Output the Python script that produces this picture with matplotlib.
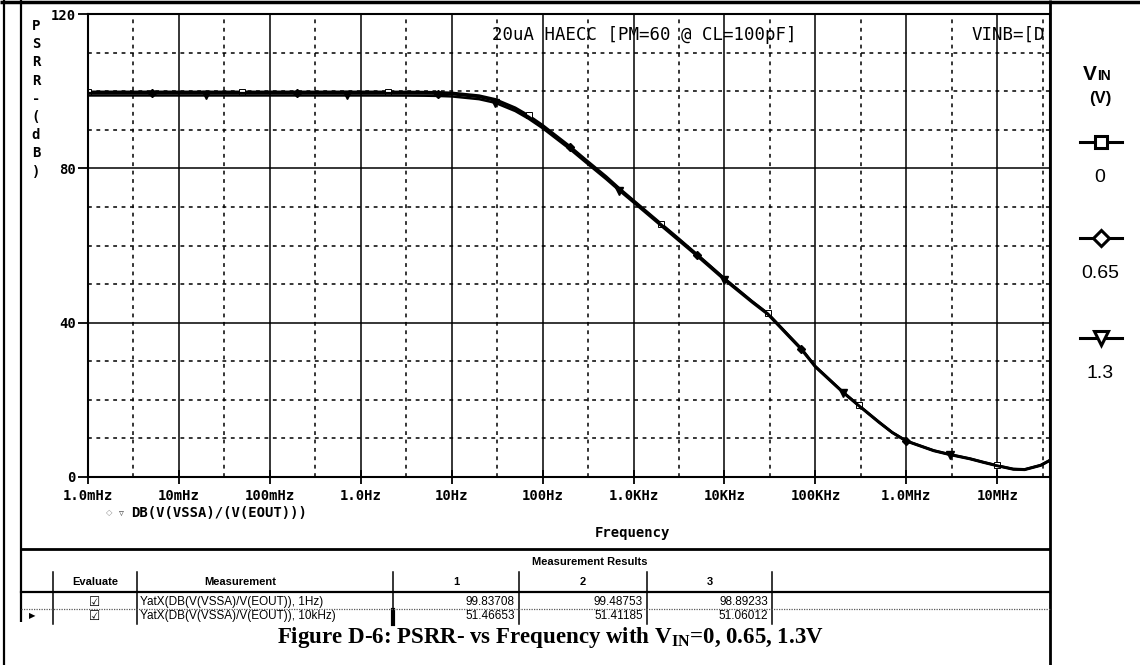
import matplotlib.pyplot as plt
from matplotlib.lines import Line2D

plt.rcParams['mathtext.fontset'] = 'custom'
plt.rcParams['mathtext.rm'] = 'Liberation Serif:bold'
plt.rcParams['mathtext.bf'] = 'Liberation Serif:bold'

W, H = 1140, 665
MONO = "DejaVu Sans Mono"
SANS = "Liberation Sans"

# frequency sweep (Hz) and PSRR- (dB) for each input common-mode voltage
freq = [1e-3, 2e-3, 3e-3, 5e-3, 7e-3,
        1e-2, 2e-2, 3e-2, 5e-2, 7e-2,
        0.1, 0.2, 0.3, 0.5, 0.7,
        1, 2, 3, 5, 7,
        10, 20, 30, 50, 70,
        100, 200, 300, 500, 700,
        1e3, 2e3, 3e3, 5e3, 7e3,
        1e4, 2e4, 3e4, 5e4, 7e4,
        1e5, 2e5, 3e5, 5e5, 7e5,
        1e6, 2e6, 3e6, 5e6, 7e6,
        1e7, 1.5e7, 2e7, 3e7, 3.8e7]

psrr_vin_0 = [99.84, 99.84, 99.84, 99.84, 99.84,
              99.84, 99.84, 99.84, 99.84, 99.84,
              99.84, 99.84, 99.84, 99.84, 99.84,
              99.84, 99.83, 99.82, 99.78, 99.71,
              99.58, 98.86, 97.92, 95.72, 93.72,
              91.2, 85.7, 82.2, 77.9, 74.8,
              71.7, 65.7, 62.2, 57.7, 54.7,
              51.47, 45.6, 42.4, 36.9, 33.3,
              28.7, 22.1, 18.6, 14.3, 11.6,
              9.4, 6.9, 5.9, 4.8, 3.9,
              3.0, 2.1, 2.0, 3.1, 4.4]

psrr_vin_065 = [99.49, 99.49, 99.49, 99.49, 99.49,
                99.49, 99.49, 99.49, 99.49, 99.49,
                99.49, 99.49, 99.49, 99.49, 99.49,
                99.49, 99.48, 99.47, 99.43, 99.36,
                99.23, 98.5, 97.57, 95.4, 93.4,
                90.9, 85.4, 81.9, 77.6, 74.6,
                71.5, 65.5, 62.0, 57.6, 54.6,
                51.41, 45.55, 42.35, 36.85, 33.25,
                28.65, 22.05, 18.55, 14.25, 11.55,
                9.35, 6.85, 5.85, 4.75, 3.85,
                2.95, 2.05, 1.95, 3.05, 4.35]

psrr_vin_13 = [98.89, 98.89, 98.89, 98.89, 98.89,
               98.89, 98.89, 98.89, 98.89, 98.89,
               98.89, 98.89, 98.89, 98.89, 98.89,
               98.89, 98.88, 98.87, 98.83, 98.77,
               98.64, 97.93, 97.0, 94.85, 92.87,
               90.4, 84.95, 81.5, 77.2, 74.2,
               71.15, 65.15, 61.65, 57.25, 54.25,
               51.06, 45.3, 42.1, 36.6, 33.0,
               28.45, 21.9, 18.4, 14.1, 11.45,
               9.25, 6.75, 5.75, 4.65, 3.75,
               2.85, 1.95, 1.85, 2.95, 4.25]

x_ticks = [1e-3, 1e-2, 1e-1, 1, 10, 100, 1e3, 1e4, 1e5, 1e6, 1e7]
x_labels = ["1.0mHz", "10mHz", "100mHz", "1.0Hz", "10Hz", "100Hz",
            "1.0KHz", "10KHz", "100KHz", "1.0MHz", "10MHz"]
x_minor = [t * 10 ** 0.5 for t in x_ticks]
y_ticks = [0, 40, 80, 120]
y_minor = [10, 20, 30, 50, 60, 70, 90, 100, 110]

vin_labels = ["0", "0.65", "1.3"]
meas_names = ["YatX(DB(V(VSSA)/V(EOUT)), 1Hz)",
              "YatX(DB(V(VSSA)/V(EOUT)), 10kHz)"]
meas_values = [[99.83708, 99.48753, 98.89233],
               [51.46653, 51.41185, 51.06012]]

fig = plt.figure(figsize=(W / 100, H / 100), dpi=100)

# pixel canvas for the window frame, table, legend and caption
bg = fig.add_axes([0, 0, 1, 1])
bg.set_xlim(0, W)
bg.set_ylim(H, 0)
bg.axis("off")

# plot area
L, R, T, B = 88, 1050, 14, 477
ax = fig.add_axes([L / W, 1 - B / H, (R - L) / W, (B - T) / H])
ax.set_xscale("log")
ax.set_xlim(1e-3, 3.8e7)
ax.set_ylim(0, 120)

ax.set_xticks(x_ticks)
ax.set_xticklabels(x_labels, fontfamily=MONO, fontweight="bold", fontsize=10)
ax.set_xticks(x_minor, minor=True)
ax.set_yticks(y_ticks)
ax.set_yticklabels([str(v) for v in y_ticks], fontfamily=MONO, fontweight="bold", fontsize=10)
ax.set_yticks(y_minor, minor=True)
ax.tick_params(axis="x", which="major", direction="inout", length=10, width=1.3, pad=4)
ax.tick_params(axis="y", which="major", direction="out", length=7, width=1.3, pad=2)
ax.tick_params(which="minor", length=0)
ax.grid(True, which="major", color="black", linewidth=1.1, linestyle="-")
ax.grid(True, which="minor", color="black", linewidth=1.1, linestyle=(0, (2.5, 3)))
ax.set_axisbelow(True)
for s in ax.spines.values():
    s.set_linewidth(1.5)

every = 0.1386
ax.plot(freq, psrr_vin_0, color="black", lw=1.8, marker="s", ms=4,
        mfc="white", mec="black", mew=0.7, markevery=(0.0084, every))
ax.plot(freq, psrr_vin_065, color="black", lw=1.8, marker="D", ms=4.5,
        mfc="black", mec="black", markevery=(0.056, every))
ax.plot(freq, psrr_vin_13, color="black", lw=1.8, marker="v", ms=5.5,
        mfc="black", mec="black", markevery=(0.102, every))

ax.text((492 - L) / (R - L), (B - 35) / (B - T), "20uA HAECC [PM=60 @ CL=100pF]",
        transform=ax.transAxes, fontfamily=MONO, fontsize=12.5, va="center", ha="left")
ax.text((972 - L) / (R - L), (B - 35) / (B - T), "VINB=[D",
        transform=ax.transAxes, fontfamily=MONO, fontsize=12.5, va="center", ha="left",
        clip_on=True)

# stacked y-axis title
for i, ch in enumerate("PSRR-(dB)"):
    bg.text(36, 26 + i * 18.2, ch, fontfamily=MONO, fontweight="bold", fontsize=10,
            ha="center", va="center")

# trace name and x-axis title
bg.text(109, 513, "\u25c7", fontsize=6, color="0.55", ha="center", va="center")
bg.text(121, 513, "\u25bf", fontsize=7, color="0.3", ha="center", va="center")
bg.text(131, 513, "DB(V(VSSA)/(V(EOUT)))", fontfamily=MONO, fontweight="bold",
        fontsize=10, ha="left", va="center")
bg.text(632, 533, "Frequency", fontfamily=MONO, fontweight="bold", fontsize=10,
        ha="center", va="center")

# window frame
frame = dict(color="black", linewidth=1.6, solid_capstyle="butt")
bg.plot([0, W], [2, 2], **{**frame, "linewidth": 2.5})
bg.plot([4, 4], [0, H], **frame)
bg.plot([21, 21], [0, 622], **frame)
bg.plot([R, R], [0, H], **{**frame, "linewidth": 2})
bg.plot([21, R], [549, 549], **{**frame, "linewidth": 2})

# measurement results table
bg.text(590, 562, "Measurement Results", fontfamily=SANS, fontweight="bold",
        fontsize=8, ha="center", va="center")
col_x = [53, 137, 393, 519, 647, 772]
for cx in col_x:
    bg.plot([cx, cx], [572, 624], color="black", linewidth=1.1)
bg.plot([393, 393], [610, 624], color="black", linewidth=3)
bg.plot([21, R], [592, 592], color="black", linewidth=1.6)
bg.plot([21, R], [609, 609], color="0.35", linewidth=0.9, linestyle=(0, (1, 1)))
bg.text(95, 582, "Evaluate", fontfamily=SANS, fontweight="bold", fontsize=8,
        ha="center", va="center")
bg.text(240, 582, "Measurement", fontfamily=SANS, fontweight="bold", fontsize=8,
        ha="center", va="center")
for j, name in enumerate(["1", "2", "3"]):
    bg.text((col_x[2 + j] + col_x[3 + j]) / 2, 582, name, fontfamily=SANS,
            fontweight="bold", fontsize=8, ha="center", va="center")
row_y = [602, 616]
for i, (name, vals) in enumerate(zip(meas_names, meas_values)):
    y = row_y[i]
    bg.text(95, y, "\u2611", fontsize=9, ha="center", va="center")
    bg.text(140, y, name, fontfamily=SANS, fontsize=8.5, ha="left", va="center")
    for j, v in enumerate(vals):
        bg.text(col_x[3 + j] - 4, y, f"{v:.5f}", fontfamily=SANS, fontsize=8.5,
                ha="right", va="center")
bg.text(32, 616, "\u25b6", fontsize=6, ha="center", va="center")

bg.text(550, 637, r"Figure D-6: PSRR- vs Frequency with V$_{\mathbf{IN}}$=0, 0.65, 1.3V",
        fontfamily="Liberation Serif", fontweight="bold", fontsize=16.5,
        ha="center", va="center")

# legend panel
bg.text(1097, 80, "V", fontfamily=SANS, fontweight="bold", fontsize=15,
        ha="right", va="baseline")
bg.text(1097, 80, "IN", fontfamily=SANS, fontweight="bold", fontsize=10,
        ha="left", va="baseline")
bg.text(1100, 98, "(V)", fontfamily=SANS, fontweight="bold", fontsize=12,
        ha="center", va="center")
legend_marks = [("s", 9), ("D", 8.5), ("v", 10)]
legend_y = [142, 238, 338]
for (mk, ms), ly, lab in zip(legend_marks, legend_y, vin_labels):
    bg.add_line(Line2D([1080, 1122], [ly, ly], color="black", linewidth=2.2))
    bg.add_line(Line2D([1101], [ly], color="black", marker=mk, markersize=ms,
                       mfc="white", mec="black", mew=2.2, linestyle="none"))
    bg.text(1100, ly + 36, lab, fontfamily=SANS, fontsize=14, ha="center", va="center")

fig.savefig("out.png", dpi=100)
